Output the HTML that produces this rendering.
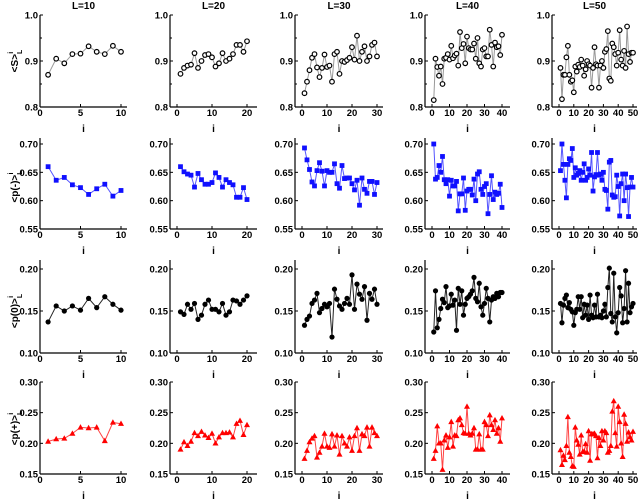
<!DOCTYPE html>
<html><head><meta charset="utf-8"><style>
html,body{margin:0;padding:0;background:#fff;}
svg{display:block;font-family:"Liberation Sans",Arial,sans-serif;font-weight:bold;}
</style></head><body>
<svg id="chart" width="640" height="500"></svg>
<script>
const rowMeta = [
  {min:0.8, max:1.0, ticks:[0.8,0.9,1.0], fmt:1, title:"<S>", kind:"open", color:"#000", line:"#999"},
  {min:0.55, max:0.70, ticks:[0.55,0.60,0.65,0.70], fmt:2, title:"<p(-)>", kind:"square", color:"#1010ff", line:"#5555ff"},
  {min:0.10, max:0.20, ticks:[0.10,0.15,0.20], fmt:2, title:"<p(0)>", kind:"dot", color:"#000", line:"#222"},
  {min:0.15, max:0.30, ticks:[0.15,0.20,0.25,0.30], fmt:2, title:"<p(+)>", kind:"tri", color:"#ff0000", line:"#ff4444"}
];
const sizes = [10,20,30,40,50];
const xTicks = [[0,5,10],[0,10,20],[0,10,20,30],[0,10,20,30,40],[0,10,20,30,40,50]];

const sL10=[.87,.905,.895,.915,.916,.932,.92,.915,.933,.92];
const sL20=[.872,.885,.89,.892,.917,.885,.9,.913,.915,.908,.888,.895,.917,.9,.905,.915,.935,.935,.92,.943];
const sL30=[.83,.855,.88,.907,.915,.886,.865,.885,.914,.887,.89,.855,.915,.92,.872,.9,.898,.902,.907,.93,.903,.955,.9,.92,.932,.9,.91,.935,.94,.91];
const sL40=[.815,.905,.887,.868,.888,.85,.905,.907,.915,.903,.933,.906,.912,.916,.89,.963,.928,.937,.895,.953,.928,.925,.925,.938,.905,.95,.895,.888,.925,.928,.91,.91,.968,.935,.888,.94,.93,.932,.913,.957];
const sL50=[.885,.817,.87,.87,.908,.933,.87,.855,.858,.832,.888,.877,.892,.887,.903,.89,.868,.882,.9,.893,.89,.842,.885,.93,.893,.89,.842,.89,.9,.885,.92,.926,.965,.862,.857,.938,.93,.915,.89,.918,.967,.903,.89,.922,.885,.975,.915,.898,.918,.918];

const mL10=[.66,.636,.641,.628,.623,.611,.621,.629,.608,.618];
const mL20=[.66,.651,.647,.645,.624,.648,.637,.629,.629,.632,.649,.641,.624,.637,.632,.628,.606,.606,.623,.602];
const mL30=[.693,.672,.655,.633,.626,.653,.667,.652,.626,.653,.65,.65,.665,.63,.622,.662,.639,.64,.64,.63,.619,.636,.592,.64,.62,.613,.634,.634,.611,.632];
const mL40=[.70,.638,.641,.662,.65,.678,.637,.63,.637,.608,.636,.626,.626,.634,.582,.612,.612,.64,.583,.617,.62,.62,.61,.638,.6,.647,.651,.62,.611,.625,.63,.577,.611,.644,.602,.615,.611,.613,.629,.588];
const mL50=[.653,.70,.664,.636,.605,.664,.674,.671,.692,.641,.658,.645,.648,.653,.636,.65,.665,.636,.641,.656,.645,.685,.617,.642,.646,.685,.645,.647,.636,.65,.62,.618,.585,.668,.671,.61,.606,.607,.645,.625,.573,.63,.647,.6,.647,.623,.572,.624,.641,.624];

const zL10=[.137,.156,.150,.156,.151,.165,.154,.167,.158,.151];
const zL20=[.149,.146,.158,.152,.159,.140,.145,.158,.163,.152,.152,.149,.159,.145,.149,.163,.162,.158,.163,.168];
const zL30=[.133,.140,.144,.159,.163,.171,.148,.153,.158,.155,.159,.119,.176,.164,.156,.152,.159,.165,.158,.193,.152,.182,.170,.164,.179,.139,.171,.164,.176,.158];
const zL40=[.125,.174,.130,.140,.153,.164,.160,.179,.154,.156,.170,.157,.163,.127,.177,.158,.174,.145,.158,.165,.167,.170,.174,.190,.165,.161,.183,.155,.145,.159,.177,.165,.137,.163,.167,.165,.171,.167,.172,.172];
const zL50=[.159,.136,.157,.165,.169,.154,.160,.152,.149,.133,.148,.152,.167,.152,.167,.142,.158,.145,.157,.140,.169,.145,.142,.157,.143,.170,.143,.145,.142,.150,.158,.143,.178,.201,.147,.137,.195,.143,.124,.148,.178,.168,.136,.153,.198,.137,.183,.148,.155,.159];

const pL10=[.203,.207,.208,.216,.226,.225,.226,.204,.234,.232];
const pL20=[.19,.202,.196,.203,.217,.212,.219,.213,.209,.216,.2,.21,.217,.217,.218,.21,.232,.237,.214,.23];
const pL30=[.175,.188,.202,.208,.212,.177,.185,.195,.216,.195,.193,.215,.195,.213,.182,.212,.2,.195,.21,.188,.212,.225,.188,.215,.212,.226,.195,.226,.217,.212];
const pL40=[.175,.188,.228,.2,.2,.157,.205,.213,.193,.21,.235,.195,.213,.212,.238,.241,.23,.217,.216,.26,.216,.213,.216,.225,.19,.19,.215,.19,.19,.235,.23,.212,.246,.23,.222,.238,.216,.225,.203,.241];
const pL50=[.189,.165,.18,.173,.196,.243,.185,.178,.163,.162,.226,.205,.198,.182,.213,.186,.187,.199,.185,.22,.172,.215,.215,.216,.212,.176,.209,.196,.22,.205,.22,.217,.185,.188,.196,.252,.269,.217,.195,.26,.235,.2,.178,.247,.232,.203,.218,.21,.205,.219];

const series = [[sL10,sL20,sL30,sL40,sL50],[mL10,mL20,mL30,mL40,mL50],[zL10,zL20,zL30,zL40,zL50],[pL10,pL20,pL30,pL40,pL50]];

// layout (pixels)
const colGeo = [
  {ax:40, x0:40, k:8.1, right:127},
  {ax:170, x0:177, k:3.5, right:257},
  {ax:295, x0:302, k:2.5, right:383},
  {ax:425, x0:432, k:1.75, right:510},
  {ax:552, x0:559, k:1.48, right:637}
];
const rowGeo = [
  {top:15, bot:107, axTop:15},
  {top:144, bot:229, axTop:138},
  {top:269, bot:353, axTop:260},
  {top:382, bot:474, axTop:382}
];

const svg = document.getElementById('chart');
const NS = 'http://www.w3.org/2000/svg';
function mk(tag, attrs, parent){
  const e = document.createElementNS(NS, tag);
  for (const k in attrs) e.setAttribute(k, attrs[k]);
  (parent||svg).appendChild(e);
  return e;
}

sizes.forEach((L,c)=>{
  const t = mk('text',{x:(colGeo[c].ax+colGeo[c].right)/2, y:9, 'text-anchor':'middle','font-size':'10'});
  t.textContent = 'L='+L;
  
  
});

rowMeta.forEach((rm,r)=>{
  const rg = rowGeo[r];
  const yS = v => rg.bot - (v - rm.min)/(rm.max - rm.min)*(rg.bot - rg.top);
  const midY = (rg.top+rg.bot)/2;
  const yt = mk('text',{x:0,y:0,transform:`translate(18,${midY}) rotate(-90)`,'text-anchor':'middle','font-size':'10'});
  
  
  yt.innerHTML = rm.title.replace('<','&lt;').replace('>','&gt;') + '<tspan dy="4" font-size="7">L</tspan><tspan dy="-9" dx="-4" font-size="7">i</tspan>';

  sizes.forEach((L,c)=>{
    const cg = colGeo[c];
    const xS = i => cg.x0 + i*cg.k;
    const g = mk('g',{});
    
    
    mk('line',{x1:cg.ax,y1:rg.axTop,x2:cg.ax,y2:rg.bot,stroke:'#000','stroke-width':1.2},g);
    mk('line',{x1:cg.ax,y1:rg.bot,x2:cg.right,y2:rg.bot,stroke:'#000','stroke-width':1.2},g);
    rm.ticks.forEach(v=>{
      const y = yS(v);
      mk('line',{x1:cg.ax,y1:y,x2:cg.ax+3,y2:y,stroke:'#000'},g);
      if (r===0 && v<1.0) {
        const ym = yS(v + 0.05);
        mk('line',{x1:cg.ax,y1:ym,x2:cg.ax+2,y2:ym,stroke:'#000'},g);
      }
      const tl = mk('text',{x:cg.ax-2,y:y+3.5,'text-anchor':'end','font-size':'9.5'},g);
      tl.textContent = v.toFixed(rm.fmt);
    });
    xTicks[c].forEach(v=>{
      const x = xS(v);
      mk('line',{x1:x,y1:rg.bot,x2:x,y2:rg.bot-3,stroke:'#000'},g);
      const tl = mk('text',{x:x,y:rg.bot+9,'text-anchor':'middle','font-size':'9.5'},g);
      tl.textContent = v;
    });
    const xl = mk('text',{x:(cg.ax+cg.right)/2,y:rg.bot+25,'text-anchor':'middle','font-size':'10'},g);
    xl.textContent = 'i';
    
    

    const data = series[r][c];
    const pts = data.map((v,i)=>[xS(i+1), yS(v)]);
    const pl = mk('polyline',{points:pts.map(p=>p.join(',')).join(' '),fill:'none',stroke:rm.line,'stroke-width':1},g);
    
    
    pts.forEach(([x,y])=>{
      let m;
      if (rm.kind==='open') m = mk('circle',{cx:x,cy:y,r:2.3,fill:'#fff',stroke:'#000','stroke-width':1.2},g);
      else if (rm.kind==='dot') m = mk('circle',{cx:x,cy:y,r:2.6,fill:'#000'},g);
      else if (rm.kind==='square') m = mk('rect',{x:x-2.4,y:y-2.4,width:4.8,height:4.8,fill:rm.color},g);
      else m = mk('polygon',{points:`${x},${y-3.2} ${x-3},${y+2.2} ${x+3},${y+2.2}`,fill:rm.color},g);
      
      
    });
  });
});
</script>
</body></html>
